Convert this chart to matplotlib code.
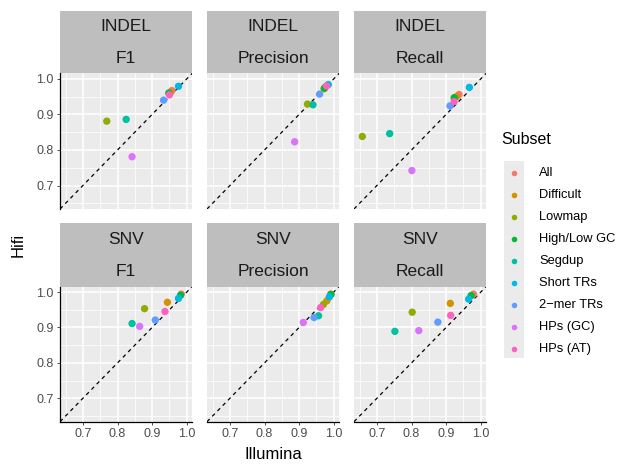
import numpy as np
import matplotlib.pyplot as plt
from matplotlib.patches import Rectangle

plt.rcParams['font.family'] = ['Liberation Sans', 'DejaVu Sans']

subsets = ['All', 'Difficult', 'Lowmap', 'High/Low GC', 'Segdup',
           'Short TRs', '2\u2212mer TRs', 'HPs (GC)', 'HPs (AT)']
colors = ['#F8766D', '#D39200', '#93AA00', '#00BA38', '#00C19F',
          '#00B9E3', '#619CFF', '#DB72FB', '#FF61C3']

var_types = ['INDEL', 'SNV']
metrics = ['F1', 'Precision', 'Recall']

# Illumina (x) and Hifi (y) values, order as in subsets
indel_f1_x = [0.957, 0.953, 0.769, 0.948, 0.825, 0.976, 0.933, 0.842, 0.950]
indel_f1_y = [0.967, 0.962, 0.881, 0.960, 0.886, 0.979, 0.940, 0.781, 0.955]
indel_prec_x = [0.977, 0.972, 0.924, 0.973, 0.940, 0.984, 0.959, 0.887, 0.979]
indel_prec_y = [0.978, 0.972, 0.929, 0.974, 0.927, 0.984, 0.957, 0.823, 0.980]
indel_rec_x = [0.937, 0.930, 0.658, 0.923, 0.737, 0.967, 0.911, 0.801, 0.923]
indel_rec_y = [0.956, 0.950, 0.838, 0.947, 0.846, 0.976, 0.924, 0.742, 0.936]
snv_f1_x = [0.984, 0.944, 0.878, 0.982, 0.842, 0.976, 0.909, 0.864, 0.937]
snv_f1_y = [0.994, 0.971, 0.953, 0.991, 0.911, 0.982, 0.921, 0.903, 0.945]
snv_prec_x = [0.991, 0.980, 0.970, 0.992, 0.956, 0.987, 0.943, 0.912, 0.962]
snv_prec_y = [0.994, 0.975, 0.965, 0.993, 0.933, 0.986, 0.928, 0.914, 0.956]
snv_rec_x = [0.979, 0.912, 0.802, 0.972, 0.752, 0.965, 0.876, 0.821, 0.913]
snv_rec_y = [0.994, 0.968, 0.943, 0.990, 0.889, 0.980, 0.915, 0.891, 0.934]

datos = {
    ('INDEL', 'F1'): (indel_f1_x, indel_f1_y),
    ('INDEL', 'Precision'): (indel_prec_x, indel_prec_y),
    ('INDEL', 'Recall'): (indel_rec_x, indel_rec_y),
    ('SNV', 'F1'): (snv_f1_x, snv_f1_y),
    ('SNV', 'Precision'): (snv_prec_x, snv_prec_y),
    ('SNV', 'Recall'): (snv_rec_x, snv_rec_y),
}

W, H = 620, 465
fig = plt.figure(figsize=(6.2, 4.65), dpi=100)

def caja(x0, y0, x1, y1):
    # caja en pixeles (origen arriba a la izquierda) -> fraccion de figura
    return [x0 / W, 1 - y1 / H, (x1 - x0) / W, (y1 - y0) / H]

cols = [(60, 192), (207, 339), (354, 486)]
rows = [((11, 73.5), (73.5, 209)), ((223.3, 286.7), (286.7, 421.7))]
lim = (0.634, 1.015)

for i, vt in enumerate(var_types):
    (s0, s1), (p0, p1) = rows[i]
    for j, m in enumerate(metrics):
        c0, c1 = cols[j]
        # franja de titulo
        st = fig.add_axes(caja(c0, s0, c1, s1))
        st.set_facecolor('#BEBEBE')
        st.set_xticks([]); st.set_yticks([])
        for sp in st.spines.values():
            sp.set_visible(False)
        st.text(0.5, 0.75, vt, ha='center', va='center', fontsize=12.5, color='#1A1A1A')
        st.text(0.5, 0.24, m, ha='center', va='center', fontsize=12.5, color='#1A1A1A')

        ax = fig.add_axes(caja(c0, p0, c1, p1))
        ax.set_facecolor('#EBEBEB')
        ax.set_xlim(lim); ax.set_ylim(lim)
        ticks = [0.7, 0.8, 0.9, 1.0]
        ax.set_xticks(ticks); ax.set_yticks(ticks)
        ax.set_xticks([0.65, 0.75, 0.85, 0.95], minor=True)
        ax.set_yticks([0.65, 0.75, 0.85, 0.95], minor=True)
        ax.grid(which='major', color='white', linewidth=1.1)
        ax.grid(which='minor', color='white', linewidth=0.55)
        ax.set_axisbelow(True)
        ax.tick_params(which='minor', length=0)
        ax.tick_params(which='major', length=2.5, width=0.6, color='#333333',
                       labelsize=9, labelcolor='#4D4D4D', pad=2)
        for sp in ax.spines.values():
            sp.set_visible(False)
        if j == 0:
            ax.spines['left'].set_visible(True)
            ax.spines['left'].set_linewidth(0.9)
            ax.set_yticklabels(['0.7', '0.8', '0.9', '1.0'])
        else:
            ax.tick_params(axis='y', labelleft=False, length=0)
        if i == 1:
            ax.spines['bottom'].set_visible(True)
            ax.spines['bottom'].set_linewidth(0.9)
            ax.set_xticklabels(['0.7', '0.8', '0.9', '1.0'])
        else:
            ax.tick_params(axis='x', labelbottom=False, length=0)

        ax.axline((0.7, 0.7), slope=1, color='black', linestyle=(0, (3, 3)),
                  linewidth=0.9, zorder=2)
        xs, ys = datos[(vt, m)]
        ax.scatter(xs, ys, c=colors, s=28, linewidths=0, zorder=3)

fig.text(18 / W, 1 - 245 / H, 'Hifi', rotation=90, ha='center', va='center',
         fontsize=12, color='black')
fig.text(273 / W, 1 - 454 / H, 'Illumina', ha='center', va='center',
         fontsize=12, color='black')

# leyenda
fig.text(501 / W, 1 - 140 / H, 'Subset', ha='left', va='center', fontsize=11.5)
lg = fig.add_axes([0, 0, 1, 1])
lg.set_xlim(0, W); lg.set_ylim(H, 0)
lg.axis('off')
lg.add_patch(Rectangle((504, 161), 20, 197, color='#EBEBEB', lw=0))
for k, (nombre, col) in enumerate(zip(subsets, colors)):
    yk = 173 + k * 22
    lg.scatter([514], [yk], color=col, s=16, linewidths=0)
    lg.text(539, yk, nombre, ha='left', va='center', fontsize=9.3, color='black')

plt.savefig('out.png', dpi=100)
